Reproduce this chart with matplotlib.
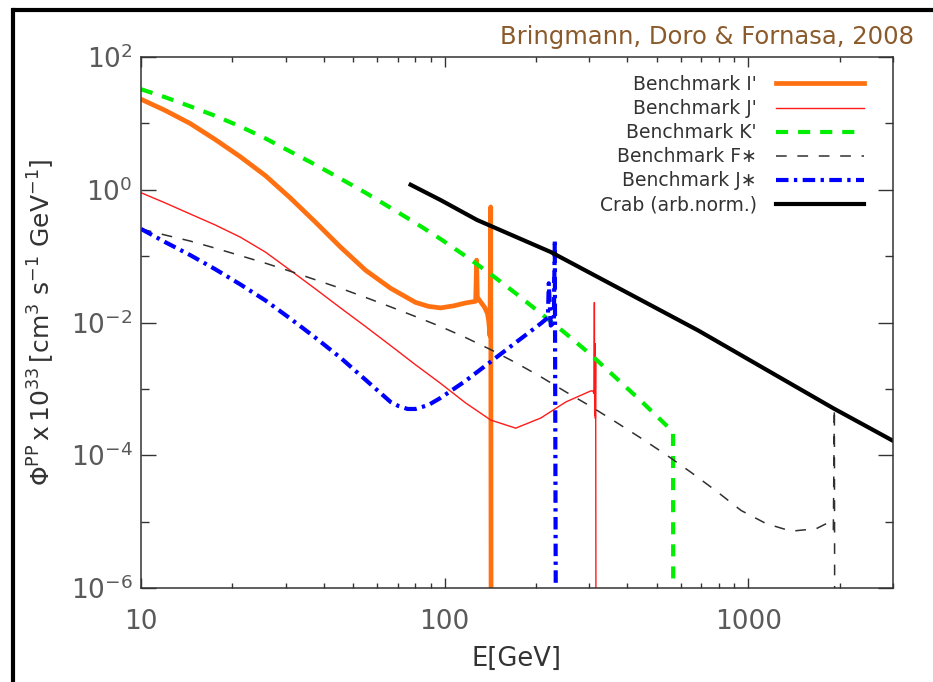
import matplotlib
matplotlib.use("Agg")
import matplotlib.pyplot as plt
from matplotlib.ticker import FixedLocator, NullFormatter, FixedFormatter
from matplotlib.lines import Line2D

plt.rcParams['font.family'] = ['DejaVu Sans']
plt.rcParams['mathtext.default'] = 'regular'

# ---------------- data ----------------
E_I = [10, 12.0, 14.5, 17.55, 21.2, 25.7, 31.0, 37.5, 45.4, 54.9, 66.4, 80.2, 88.5, 97.0,
       107, 117.3, 126.6, 127.5, 128.2, 131.5, 135.5, 138.4, 139.7, 141.1, 141.9, 142.4]
Phi_I = [23.1, 15.7, 10, 5.72, 3.16, 1.63, 0.756, 0.327, 0.137, 0.0614, 0.0328, 0.0201,
         0.0175, 0.0166, 0.0178, 0.0197, 0.0209, 0.087, 0.024, 0.0204, 0.0169, 0.0137,
         0.0107, 0.0063, 0.55, 1e-8]

E_Jp = [10, 12.0, 14.5, 17.55, 21.2, 25.7, 31.0, 37.5, 45.4, 54.9, 66.4, 80.2, 97.0, 117.3,
        141.9, 171.5, 207.5, 250.8, 303.3, 308, 310.5, 311.5, 312.3, 313, 313.8, 314.5, 315.5]
Phi_Jp = [0.901, 0.635, 0.433, 0.295, 0.194, 0.115, 0.0614, 0.0322, 0.0166, 0.0087, 0.00449,
          0.00231, 0.00121, 6.14e-4, 3.39e-4, 2.56e-4, 3.64e-4, 6.35e-4, 9.33e-4, 9.3e-4,
          8.5e-4, 0.02, 4e-4, 4.8e-3, 3.6e-4, 3e-3, 1e-8]

E_K = [10, 12.0, 14.5, 17.55, 21.2, 25.7, 31.0, 37.5, 45.4, 54.9, 66.4, 80.2, 97.0, 117.3,
       141.9, 171.5, 207.5, 250.8, 303.3, 366.7, 443.6, 536.3, 565.6, 567]
Phi_K = [32.7, 24.8, 18.1, 13.0, 9.01, 5.93, 3.77, 2.39, 1.47, 0.901, 0.533, 0.316, 0.181,
         0.1, 0.0534, 0.0275, 0.0137, 0.00681, 0.00327, 0.00147, 6.58e-4, 2.85e-4, 2.23e-4,
         1e-8]

E_F = [10, 12.0, 14.5, 17.55, 21.2, 25.7, 31.0, 37.5, 45.4, 54.9, 66.4, 80.2, 97.0, 117.3,
       141.9, 171.5, 207.5, 250.8, 303.3, 366.7, 443.6, 536.3, 648.5, 784.3, 948.3, 1146.7,
       1386.5, 1676.5, 1837, 1908, 1923, 1930]
Phi_F = [0.257, 0.208, 0.169, 0.132, 0.102, 0.0783, 0.0593, 0.0441, 0.0328, 0.0239, 0.0172,
         0.0123, 0.0087, 0.00593, 0.0039, 0.00248, 0.00152, 9.01e-4, 5.43e-4, 3.16e-4,
         1.81e-4, 1.02e-4, 5.52e-5, 2.9e-5, 1.47e-5, 9.33e-6, 7.18e-6, 7.83e-6, 9.66e-6,
         7.58e-6, 5.1e-4, 1e-8]

E_Js = [10, 12.0, 14.5, 17.55, 21.2, 25.7, 31.0, 37.5, 45.4, 54.9, 66.4, 70.5, 75.5, 80.2,
        88.5, 97.0, 117.3, 141.9, 171.5, 207.5, 219, 220.4, 223.8, 229, 230.7, 233]
Phi_Js = [0.257, 0.163, 0.104, 0.0636, 0.0377, 0.0215, 0.0115, 0.00593, 0.00295, 0.00137,
          6.35e-4, 5.52e-4, 4.98e-4, 4.98e-4, 5.72e-4, 7.31e-4, 0.00132, 0.00257, 0.00498,
          0.00966, 0.0119, 0.039, 0.009, 0.01, 0.175, 1e-8]

E_crab = [77.3, 97, 128, 224, 684, 1908, 3000]
Phi_crab = [1.19, 0.70, 0.35, 0.115, 0.0076, 5.1e-4, 1.65e-4]

series = [
    ("Benchmark I'", E_I, Phi_I, dict(color='#ff7010', lw=3.4, ls='-')),
    ("Benchmark J'", E_Jp, Phi_Jp, dict(color='#ff1a1a', lw=1.0, ls='-')),
    ("Benchmark K'", E_K, Phi_K, dict(color='#00ee00', lw=3.0, ls=(0, (2.9, 2.4)))),
    ("Benchmark F\u2217", E_F, Phi_F, dict(color='#303030', lw=1.1, ls=(0, (7, 7)))),
    ("Benchmark J\u2217", E_Js, Phi_Js, dict(color='#0000ff', lw=3.0, ls=(0, (3, 1.3, 0.8, 1.3)))),
    ("Crab (arb.norm.)", E_crab, Phi_crab, dict(color='black', lw=3.0, ls='-')),
]

x_major = [10, 100, 1000]
x_major_labels = ['10', '100', '1000']
x_minor = [20, 30, 40, 50, 60, 70, 80, 90, 200, 300, 400, 500, 600, 700, 800, 900, 2000, 3000]
y_major = [1e-6, 1e-4, 1e-2, 1e0, 1e2]
y_major_labels = [r'$10^{-6}$', r'$10^{-4}$', r'$10^{-2}$', r'$10^{0}$', r'$10^{2}$']
y_minor = [1e-5, 1e-3, 1e-1, 1e1]

# ---------------- figure ----------------
fig = plt.figure(figsize=(9.33, 6.82), dpi=100)
ax = fig.add_axes([141/933, 1-588/682, 752/933, 531/682])

for label, x, y, st in series:
    ax.plot(x, y, label=label, **st)

ax.set_xscale('log')
ax.set_yscale('log')
ax.set_xlim(10, 3000)
ax.set_ylim(1e-6, 1e2)

ax.xaxis.set_major_locator(FixedLocator(x_major))
ax.xaxis.set_major_formatter(FixedFormatter(x_major_labels))
ax.xaxis.set_minor_locator(FixedLocator(x_minor))
ax.xaxis.set_minor_formatter(NullFormatter())
ax.yaxis.set_major_locator(FixedLocator(y_major))
ax.yaxis.set_major_formatter(FixedFormatter(y_major_labels))
ax.yaxis.set_minor_locator(FixedLocator(y_minor))
ax.yaxis.set_minor_formatter(NullFormatter())

spine_c = '#333333'
for s in ax.spines.values():
    s.set_color(spine_c)
    s.set_linewidth(1.1)
ax.tick_params(which='both', direction='in', top=True, right=True, color=spine_c, width=1.0)
ax.tick_params(axis='x', which='major', length=7, labelsize=19, labelcolor='#5a5a5a', pad=15)
ax.tick_params(axis='x', which='minor', length=3.8)
ax.tick_params(axis='y', which='major', length=11, labelsize=19, labelcolor='#5a5a5a', pad=6)
ax.tick_params(axis='y', which='minor', length=6)

ax.set_xlabel('E[GeV]', fontsize=18.5, color='#333333', labelpad=8)
ax.set_ylabel(r'$\Phi^{PP}\,$x$\,10^{33}\,[$cm$^{3}$ s$^{-1}$ GeV$^{-1}]$',
              fontsize=18, color='#333333', labelpad=10)

leg = ax.legend(loc='upper right', bbox_to_anchor=(0.961, 0.966), frameon=False,
                markerfirst=False, fontsize=13.5, handlelength=4.7, handletextpad=1.0,
                labelspacing=0.27, borderpad=0, borderaxespad=0)
for t in leg.get_texts():
    t.set_color('#333333')

fig.text(914/933, 1-37/682, 'Bringmann, Doro & Fornasa, 2008', ha='right', va='center',
         fontsize=17.5, color='#8B5A2B')

# slide frame (top and left black border)
fig.add_artist(Line2D([13/933, 1.0], [1-10/682, 1-10/682], transform=fig.transFigure,
                      color='black', lw=3.0, solid_capstyle='butt'))
fig.add_artist(Line2D([13/933, 13/933], [0, 1-10/682], transform=fig.transFigure,
                      color='black', lw=3.0, solid_capstyle='projecting'))

fig.savefig('out.png', dpi=100, facecolor='white')
